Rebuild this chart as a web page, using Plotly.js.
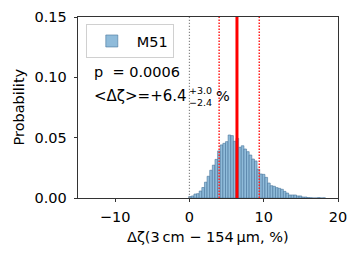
<!DOCTYPE html>
<html>
<head>
<meta charset="utf-8">
<script src="https://cdn.plot.ly/plotly-3.0.1.min.js"></script>
<style>html,body{margin:0;padding:0;background:#fff;}#chart{width:359px;height:258px;}</style>
</head>
<body>
<div id="chart"></div>
<script>
// ---- data ----
const seriesName = "M51";
const binStart = -0.1;
const binWidth = 0.354;
const probability = [
  0.0012, 0.0017, 0.0033, 0.0036, 0.0058, 0.0087, 0.0131, 0.0180, 0.0230, 0.0272,
  0.0320, 0.0390, 0.0440, 0.0453, 0.0467, 0.0522, 0.0517, 0.0470,
  0.0494, 0.0420, 0.0433, 0.0406, 0.0384, 0.0356, 0.0323, 0.0307, 0.0238, 0.0199,
  0.0196, 0.0171, 0.0124, 0.0102, 0.0097, 0.0086, 0.0080, 0.0072,
  0.0055, 0.0041, 0.0025, 0.0025, 0.0025, 0.0017, 0.0017, 0.0008, 0.0008,
  0.0004, 0.0002, 0.0000, 0.0000, 0.0003, 0.0000, 0.0001
];
const median = 6.4;
const errUp = 3.0;
const errDown = 2.4;
const pValue = "0.0006";
const zeroLine = 0;
const xTicks = [-10, 0, 10, 20];
const xTickText = ["\u221210", "0", "10", "20"];
const yTicks = [0, 0.05, 0.10, 0.15];
const yTickText = ["0.00", "0.05", "0.10", "0.15"];

const binCenters = probability.map((_, i) => binStart + binWidth * (i + 0.5));

const font = {family: "DejaVu Sans", size: 14.5, color: "#000"};
const smallFont = {family: "DejaVu Sans", size: 9.5, color: "#000"};

const trace = {
  type: "bar",
  name: seriesName,
  x: binCenters,
  y: probability,
  width: binWidth,
  marker: {color: "#8fbbda", line: {color: "#46739a", width: 0.6}},
  showlegend: true
};

const vline = (x, color, width, dash) => ({
  type: "line", xref: "x", yref: "paper", x0: x, x1: x, y0: 0, y1: 1,
  line: {color: color, width: width, dash: dash}, layer: "above"
});

const layout = {
  width: 359, height: 258,
  margin: {l: 78, r: 21, t: 17, b: 60},
  paper_bgcolor: "#fff", plot_bgcolor: "#fff",
  font: font,
  bargap: 0,
  showlegend: true,
  legend: {
    x: 0.03, y: 0.961, xanchor: "left", yanchor: "top",
    bgcolor: "rgba(255,255,255,0.85)", bordercolor: "#d0d0d0", borderwidth: 1,
    font: font, itemwidth: 40
  },
  xaxis: {
    range: [-15, 20], tickvals: xTicks, ticktext: xTickText,
    ticks: "outside", ticklen: 3.5, tickwidth: 0.8, tickcolor: "#000",
    showline: true, linecolor: "#000", linewidth: 0.8, mirror: true,
    showgrid: false, zeroline: false, tickfont: font, ticklabelstandoff: 2
  },
  yaxis: {
    range: [0, 0.15], tickvals: yTicks, ticktext: yTickText,
    ticks: "outside", ticklen: 3.5, tickwidth: 0.8, tickcolor: "#000",
    showline: true, linecolor: "#000", linewidth: 0.8, mirror: true,
    showgrid: false, zeroline: false, tickfont: font, ticklabelstandoff: 4
  },
  shapes: [
    vline(zeroLine, "#888888", 1.2, "1.2px,1.8px"),
    vline(median - errDown, "#ff2020", 1.5, "1.5px,1.5px"),
    vline(median + errUp, "#ff2020", 1.5, "1.5px,1.5px"),
    vline(median, "#ff0000", 3, "solid")
  ],
  annotations: [
    {xref: "paper", yref: "paper", x: 0, y: 0.5, xshift: -60, textangle: -90,
     text: "Probability", showarrow: false, font: font, xanchor: "center", yanchor: "middle"},
    {xref: "paper", yref: "paper", x: 0.5, y: 0, yshift: -39,
     text: "\u0394\u03b6(3\u2009cm \u2212 154\u2009\u03bcm, %)", showarrow: false, font: font,
     xanchor: "center", yanchor: "middle"},
    {xref: "paper", yref: "paper", x: 0, y: 1, xshift: 14, yshift: -55,
     text: "p\u00a0\u00a0= " + pValue, showarrow: false, font: font, xanchor: "left", yanchor: "middle"},
    {xref: "paper", yref: "paper", x: 0, y: 1, xshift: 14, yshift: -79,
     text: "&lt;\u0394\u03b6&gt;=+" + median.toFixed(1), showarrow: false,
     font: {family: "DejaVu Sans", size: 15, color: "#000"},
     xanchor: "left", yanchor: "middle"},
    {xref: "paper", yref: "paper", x: 0, y: 1, xshift: 109, yshift: -79,
     text: "+" + errUp.toFixed(1) + "<br>\u2212" + errDown.toFixed(1), showarrow: false, font: smallFont,
     xanchor: "left", yanchor: "middle", align: "left"},
    {xref: "paper", yref: "paper", x: 0, y: 1, xshift: 136, yshift: -79,
     text: "%", showarrow: false, font: font, xanchor: "left", yanchor: "middle"}
  ]
};

Plotly.newPlot("chart", [trace], layout, {displayModeBar: false, staticPlot: true});
</script>
</body>
</html>
